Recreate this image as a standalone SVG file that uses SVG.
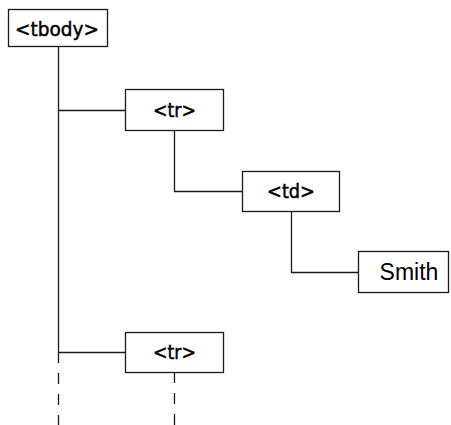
<svg xmlns="http://www.w3.org/2000/svg" width="451" height="425" viewBox="0 0 451 425">
<style>
.box{fill:#fff;stroke:#1a1a1a;stroke-width:1.3}
.tag{font-family:"DejaVu Sans","Liberation Sans",sans-serif;font-size:20px;fill:#000;stroke:#000;stroke-width:0.5;text-anchor:middle}
.txt{font-family:"Liberation Sans",Arial,sans-serif;font-size:23px;fill:#000;text-anchor:middle}
.ln{fill:none;stroke:#1a1a1a;stroke-width:1.3}
.dash{fill:none;stroke:#1a1a1a;stroke-width:1.3;stroke-dasharray:11 10}
</style>
<g id="connectors">
<path class="ln" d="M58.5 47V363M58.5 110.5H125M58.5 352.5H125"/>
<path class="dash" d="M58.5 373V425"/>
<path class="ln" d="M174.5 130V191.5H242"/>
<path class="ln" d="M291.5 211V272.5H358"/>
<path class="ln" d="M174.5 373V383"/>
<path class="dash" d="M174.5 393V425"/>
</g>
<g id="tbody">
<rect class="box" x="8.5" y="9.5" width="99" height="37"/>
<text class="tag" x="57" y="36" textLength="84" lengthAdjust="spacingAndGlyphs">&lt;tbody&gt;</text>
</g>
<g id="tr1">
<rect class="box" x="125.5" y="89.5" width="98" height="41"/>
<text class="tag" x="174.5" y="117" textLength="43" lengthAdjust="spacingAndGlyphs">&lt;tr&gt;</text>
</g>
<g id="td">
<rect class="box" x="242.5" y="171.5" width="97" height="40"/>
<text class="tag" x="291" y="198" textLength="48" lengthAdjust="spacingAndGlyphs">&lt;td&gt;</text>
</g>
<g id="smith">
<rect class="box" x="358.5" y="251.5" width="90" height="41"/>
<text class="txt" x="409" y="280">Smith</text>
</g>
<g id="tr2">
<rect class="box" x="125.5" y="332.5" width="98" height="40"/>
<text class="tag" x="174.5" y="359" textLength="43" lengthAdjust="spacingAndGlyphs">&lt;tr&gt;</text>
</g>
</svg>
